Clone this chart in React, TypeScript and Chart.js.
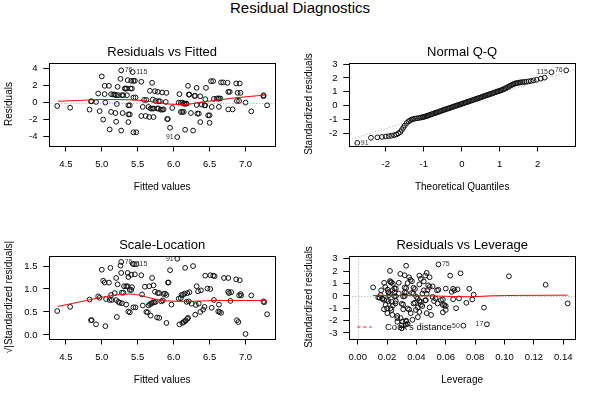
import React, { useEffect, useRef } from "react";
import { Chart, registerables } from "chart.js";
Chart.register(...registerables);

const FONT = '"Liberation Sans", Arial, Helvetica, sans-serif';

// ---------- Panel 1: Residuals vs Fitted ----------
const fitted1 = [4.38,4.56,4.83,4.85,4.86,4.92,4.95,4.97,5.00,5.02,5.04,5.05,5.04,5.10,5.11,5.13,5.13,5.16,5.18,5.19,5.20,5.21,5.22,5.20,5.23,5.26,5.27,5.27,5.28,5.30,5.29,5.32,5.33,5.35,5.35,5.36,5.37,5.37,5.39,5.37,5.40,5.42,5.39,5.41,5.43,5.44,5.46,5.44,5.47,5.44,5.48,5.55,5.55,5.57,5.59,5.62,5.61,5.65,5.66,5.67,5.68,5.70,5.72,5.70,5.71,5.72,5.74,5.75,5.77,5.79,5.78,5.79,5.81,5.82,5.84,5.84,5.86,5.89,5.90,5.91,5.92,5.95,5.98,6.05,6.08,6.07,6.10,6.12,6.10,6.12,6.14,6.14,6.15,6.17,6.18,6.16,6.20,6.21,6.22,6.24,6.27,6.29,6.30,6.32,6.32,6.33,6.35,6.37,6.37,6.39,6.43,6.44,6.44,6.45,6.48,6.50,6.50,6.52,6.55,6.53,6.56,6.60,6.62,6.63,6.65,6.63,6.66,6.69,6.75,6.76,6.78,6.76,6.82,6.87,6.92,6.88,6.91,6.89,6.93,7.00,7.08,7.25,7.25,7.30];
const resid1 = [-0.40,-0.60,-0.83,0.15,0.15,0.08,1.07,-1.00,3.09,-2.00,1.00,0.00,1.98,1.98,-3.17,1.00,-1.10,0.95,0.95,-1.23,-2.26,-0.16,1.86,0.87,0.87,2.80,-3.30,3.80,0.87,0.87,-1.23,1.66,1.66,1.66,0.87,2.65,-1.39,-0.32,-0.32,-2.30,1.66,1.66,-1.39,2.57,3.60,2.57,2.57,0.60,0.60,-3.50,-3.50,2.46,-1.58,-0.51,0.32,0.32,-1.58,-0.51,-1.70,1.39,-0.70,-0.70,-0.70,2.34,0.36,-1.70,1.35,0.20,-0.70,-0.70,1.27,0.16,0.16,-0.83,-0.83,1.19,-0.80,0.08,1.15,-1.94,-1.94,-2.97,-0.63,-4.07,1.00,0.00,0.00,0.00,-1.10,-1.10,-1.10,-0.12,-0.12,-0.12,-0.12,-3.20,1.98,0.95,0.95,-1.23,-3.30,0.79,0.79,1.74,-0.28,-1.30,-1.30,0.75,-2.30,-0.24,-0.32,-0.32,0.40,1.74,-1.50,-1.50,-2.38,2.53,2.53,-0.51,0.44,0.48,0.48,0.48,0.48,-0.51,2.38,2.38,2.34,1.27,1.27,-0.80,-0.80,2.26,2.26,0.20,0.20,1.15,1.15,0.00,-1.03,0.87,0.75,-0.32];
const smoothX1 = [4.39,4.70,5.00,5.44,5.68,5.91,6.14,6.37,6.60,6.84,7.29];
const smoothY1 = [0.16,0.26,0.36,0.32,0.12,-0.16,-0.24,0.04,0.28,0.55,0.90];
const idText1 = ["76","115","91"];
const idX1 = [5.27,5.43,6.05];
const idY1 = [3.80,3.60,-4.07];
const xTicks1 = [4.5,5.0,5.5,6.0,6.5,7.0];
const xTickLabels1 = ["4.5","5.0","5.5","6.0","6.5","7.0"];
const yTicks1 = [-4,-2,0,2,4];
const yTickLabels1 = ["-4","-2","0","2","4"];

// ---------- Panel 2: Normal Q-Q ----------
const qqX = [-2.75,-2.39,-2.22,-2.10,-2.00,-1.92,-1.85,-1.78,-1.72,-1.67,-1.62,-1.58,-1.54,-1.50,-1.45,-1.40,-1.36,-1.32,-1.28,-1.23,-1.18,-1.13,-1.08,-1.04,-1.01,-0.98,-0.94,-0.91,-0.87,-0.84,-0.80,-0.77,-0.73,-0.70,-0.66,-0.63,-0.59,-0.56,-0.52,-0.49,-0.45,-0.42,-0.38,-0.35,-0.31,-0.28,-0.24,-0.21,-0.17,-0.14,-0.10,-0.07,-0.03,0.00,0.03,0.07,0.10,0.14,0.17,0.21,0.24,0.28,0.31,0.35,0.38,0.42,0.45,0.49,0.52,0.56,0.59,0.63,0.66,0.70,0.73,0.77,0.80,0.84,0.87,0.91,0.94,0.98,1.01,1.05,1.08,1.12,1.15,1.19,1.22,1.26,1.29,1.33,1.36,1.40,1.43,1.47,1.51,1.55,1.60,1.65,1.70,1.76,1.82,1.89,1.97,2.08,2.18,2.36,2.75];
const qqY = [-2.71,-2.34,-2.31,-2.28,-2.25,-2.22,-2.19,-2.15,-2.10,-2.02,-1.93,-1.78,-1.61,-1.45,-1.27,-1.15,-1.08,-1.02,-0.98,-0.95,-0.93,-0.90,-0.88,-0.85,-0.83,-0.81,-0.78,-0.75,-0.71,-0.68,-0.64,-0.61,-0.57,-0.54,-0.51,-0.48,-0.44,-0.41,-0.37,-0.34,-0.30,-0.27,-0.23,-0.21,-0.17,-0.14,-0.10,-0.07,-0.04,-0.01,0.03,0.06,0.09,0.12,0.15,0.18,0.22,0.25,0.28,0.32,0.35,0.38,0.41,0.45,0.48,0.51,0.55,0.58,0.61,0.65,0.68,0.72,0.75,0.78,0.82,0.85,0.88,0.92,0.95,0.99,1.02,1.05,1.08,1.12,1.16,1.20,1.25,1.30,1.35,1.41,1.46,1.51,1.55,1.59,1.62,1.64,1.66,1.68,1.70,1.71,1.73,1.75,1.78,1.82,1.87,1.95,2.02,2.41,2.55];
const qqLineX = [-2.96,2.98];
const qqLineY = [-2.50,2.60];
const idText2 = ["91","115","76"];
const idX2 = [-2.75,2.36,2.75];
const idY2 = [-2.71,2.41,2.55];
const xTicks2 = [-2,-1,0,1,2];
const xTickLabels2 = ["-2","-1","0","1","2"];
const yTicks2 = [-2,-1,0,1,2,3];
const yTickLabels2 = ["-2","-1","0","1","2","3"];

// ---------- Panel 3: Scale-Location ----------
const fitted3 = [4.38,4.56,4.83,4.85,4.86,4.92,4.95,4.97,5.00,5.02,5.04,5.05,5.10,5.06,5.11,5.12,5.13,5.14,5.18,5.20,5.21,5.22,5.23,5.25,5.28,5.26,5.27,5.27,5.28,5.30,5.31,5.34,5.36,5.34,5.36,5.37,5.39,5.37,5.39,5.41,5.41,5.42,5.43,5.45,5.48,5.44,5.47,5.46,5.55,5.57,5.60,5.62,5.64,5.65,5.66,5.67,5.69,5.68,5.70,5.71,5.73,5.72,5.74,5.77,5.80,5.78,5.80,5.83,5.85,5.86,5.90,5.90,5.92,5.93,5.95,5.97,6.05,6.08,6.10,6.11,6.13,6.12,6.14,6.16,6.17,6.19,6.20,6.16,6.19,6.21,6.27,6.30,6.32,6.34,6.38,6.35,6.37,6.41,6.43,6.44,6.47,6.51,6.51,6.55,6.57,6.53,6.56,6.62,6.64,6.66,6.63,6.70,6.76,6.76,6.77,6.79,6.87,6.92,6.88,6.90,6.91,6.94,7.00,7.08,7.25,7.26,7.30,6.18,6.25,6.31,5.88,6.15,6.22,6.80,6.07,5.20,5.56,5.75,6.93];
const sqrtStd3 = [0.52,0.61,0.77,0.32,0.32,0.23,0.84,0.81,1.42,1.18,1.14,0.19,1.14,0.78,0.76,1.46,0.87,0.76,0.91,1.24,0.39,1.10,0.72,0.70,0.69,1.51,1.35,1.59,0.92,0.92,1.06,1.06,1.06,0.66,1.35,0.51,0.49,1.26,0.98,0.98,1.31,1.04,1.55,1.54,1.54,0.60,0.60,1.32,1.30,0.64,1.05,0.50,0.49,0.64,1.06,0.67,0.68,0.42,1.24,0.71,0.71,1.08,0.94,0.38,0.37,0.91,0.91,0.73,0.75,0.89,0.26,0.87,1.14,1.14,1.41,0.66,1.66,0.23,0.80,0.87,0.87,0.26,0.28,0.30,0.32,0.35,0.37,1.46,0.91,0.73,1.50,0.44,1.06,0.95,0.97,0.68,0.50,0.55,0.61,1.29,1.01,1.00,1.30,1.29,1.28,0.59,0.76,0.51,0.50,0.48,0.66,1.24,1.24,0.94,0.91,0.74,1.21,1.19,0.32,0.28,0.86,0.86,0.02,0.86,0.73,0.71,0.45,0.72,0.68,0.65,0.90,0.90,0.93,0.93,0.79,0.76,0.88,0.72,0.89];
const smoothX3 = [4.39,4.79,5.07,5.40,5.54,5.68,5.91,6.20,6.60,7.00,7.29];
const smoothY3 = [0.62,0.75,0.84,0.89,0.86,0.80,0.74,0.73,0.75,0.75,0.75];
const idText3 = ["76","115","91"];
const idX3 = [5.27,5.43,6.05];
const idY3 = [1.59,1.55,1.66];
const yTicks3 = [0,0.5,1.0,1.5];
const yTickLabels3 = ["0.0","0.5","1.0","1.5"];

// ---------- Panel 4: Residuals vs Leverage ----------
const lev4 = [0.0105,0.014,0.015,0.016,0.017,0.018,0.018,0.019,0.020,0.021,0.021,0.021,0.022,0.022,0.023,0.024,0.023,0.024,0.025,0.026,0.025,0.026,0.026,0.027,0.027,0.028,0.028,0.029,0.030,0.031,0.030,0.030,0.031,0.032,0.031,0.032,0.033,0.032,0.033,0.032,0.033,0.033,0.033,0.034,0.034,0.035,0.034,0.035,0.036,0.037,0.037,0.038,0.038,0.039,0.038,0.039,0.040,0.041,0.041,0.041,0.042,0.042,0.043,0.042,0.042,0.043,0.044,0.045,0.045,0.046,0.046,0.047,0.047,0.047,0.048,0.049,0.049,0.049,0.050,0.051,0.052,0.053,0.054,0.055,0.055,0.058,0.058,0.060,0.058,0.063,0.064,0.065,0.066,0.065,0.067,0.068,0.069,0.070,0.072,0.074,0.076,0.078,0.079,0.086,0.088,0.103,0.128,0.143,0.0224,0.0188,0.0204,0.0238,0.0250,0.0213,0.0156,0.0168,0.0197,0.0231,0.0258,0.0224,0.0179,0.0202,0.0236,0.0270,0.0293,0.0305,0.0327,0.0373,0.0361,0.0396,0.0430,0.0464,0.0441,0.0475,0.0510,0.0544,0.0567,0.0590,0.0600,0.0600];
const std4 = [0.69,-0.13,-0.13,0.45,-0.25,-0.33,1.06,-0.74,-1.00,0.30,0.28,-0.42,2.02,1.20,1.10,0.98,-1.14,-0.77,0.60,0.60,-0.03,-0.03,-0.42,-1.62,-2.10,0.19,1.06,1.78,-0.64,-0.70,-2.39,-2.63,-0.05,-0.02,-1.09,0.29,0.24,0.68,0.63,1.67,2.44,-2.00,-2.08,-2.26,-1.02,-1.10,1.03,1.51,1.30,1.19,0.24,0.19,-0.61,-0.56,0.66,0.56,-0.08,-0.21,-1.72,-0.93,1.64,-0.42,-0.48,-1.30,0.93,1.38,-0.82,0.45,1.17,1.64,-0.37,-1.40,1.86,0.18,0.85,0.72,1.51,-0.93,-1.54,0.77,-0.42,-0.21,0.45,0.50,2.55,-0.29,-0.74,-0.82,-1.33,1.64,0.32,0.58,0.45,-0.27,-1.00,0.53,-0.21,1.83,-2.41,-0.56,0.58,-0.29,0.10,-0.95,-2.30,1.59,0.90,-0.61,1.11,0.72,0.51,0.46,0.25,0.06,0.06,-0.21,-0.34,-0.48,-0.61,-1.00,-1.08,-1.40,-1.54,-1.80,-1.80,-2.07,-2.33,-1.93,-1.40,-1.14,-0.74,-0.34,0.19,0.46,-0.08,-0.61,-0.34,-0.74,-1.14,0.59];
const smoothX4 = [0.0105,0.030,0.050,0.065,0.075,0.090,0.110,0.143];
const smoothY4 = [0.04,0.03,0.00,-0.05,-0.08,0.00,0.04,0.06];
const idText4 = ["75","50","17"];
const idX4 = [0.055,0.072,0.088];
const idY4 = [2.55,-2.41,-2.30];
const xTicks4 = [0,0.02,0.04,0.06,0.08,0.10,0.12,0.14];
const xTickLabels4 = ["0.00","0.02","0.04","0.06","0.08","0.10","0.12","0.14"];
const yTicks4 = [-3,-2,-1,0,1,2,3];
const yTickLabels4 = ["-3","-2","-1","0","1","2","3"];

// ---------- layout constants ----------
const CW = 300;
const CH = 193;
const Y_AXIS_W = 49.3;
const X_AXIS_H = 61.5;
const RIGHT_PAD = 25;

function pts(xs: number[], ys: number[]) {
  return xs.map((x, i) => ({ x, y: ys[i] }));
}

function pointSet(xs: number[], ys: number[]) {
  return {
    type: "scatter",
    data: pts(xs, ys),
    pointRadius: 2.4,
    pointHoverRadius: 2.4,
    pointBorderWidth: 1,
    borderColor: "#111",
    backgroundColor: "rgba(0,0,0,0)",
    pointStyle: "circle",
    showLine: false,
    order: 2,
  };
}

function smoothSet(xs: number[], ys: number[]) {
  return {
    type: "line",
    data: pts(xs, ys),
    borderColor: "#ff0000",
    borderWidth: 1,
    pointRadius: 0,
    tension: 0.4,
    cubicInterpolationMode: "monotone",
    fill: false,
    order: 1,
  };
}

function dottedSet(xs: number[], ys: number[]) {
  return {
    type: "line",
    data: pts(xs, ys),
    borderColor: "#a0a0a0",
    borderWidth: 1,
    borderDash: [1, 2],
    pointRadius: 0,
    fill: false,
    order: 3,
  };
}

function xAxis(min: number, max: number, ticks: number[], labels: string[], title: string) {
  return {
    type: "linear",
    position: "bottom",
    min,
    max,
    afterBuildTicks: (s: any) => {
      s.ticks = ticks.map((v) => ({ value: v }));
    },
    afterFit: (s: any) => {
      s.height = X_AXIS_H;
    },
    grid: { drawOnChartArea: false, drawTicks: true, tickLength: 6, color: "#000", lineWidth: 1 },
    border: { display: false },
    ticks: {
      autoSkip: false,
      maxRotation: 0,
      minRotation: 0,
      padding: 7,
      color: "#000",
      font: { family: FONT, size: 9.5 },
      callback: (_v: any, i: number) => labels[i],
    },
    title: {
      display: true,
      text: title,
      color: "#000",
      font: { family: FONT, size: 10 },
      padding: { top: 0, bottom: 13.5 },
    },
  };
}

function yAxis(min: number, max: number, ticks: number[], labels: string[], title: string) {
  return {
    type: "linear",
    position: "left",
    min,
    max,
    afterBuildTicks: (s: any) => {
      s.ticks = ticks.map((v) => ({ value: v }));
    },
    afterFit: (s: any) => {
      s.width = Y_AXIS_W;
    },
    grid: { drawOnChartArea: false, drawTicks: true, tickLength: 6, color: "#000", lineWidth: 1 },
    border: { display: false },
    ticks: {
      autoSkip: false,
      padding: 5.8,
      color: "#000",
      font: { family: FONT, size: 9.5 },
      callback: (_v: any, i: number) => labels[i],
    },
    title: {
      display: true,
      text: title,
      color: "#000",
      font: { family: FONT, size: 10 },
      padding: { top: 3, bottom: 0 },
    },
  };
}

type Extras = {
  h0?: boolean;
  v0?: boolean;
  ids?: { t: string[]; x: number[]; y: number[] };
  cook?: string;
};

function extrasPlugin(e: Extras) {
  return {
    id: "extras",
    beforeDatasetsDraw(chart: any) {
      const { ctx, chartArea: a, scales } = chart;
      ctx.save();
      ctx.beginPath();
      ctx.rect(a.left, a.top, a.right - a.left, a.bottom - a.top);
      ctx.clip();
      ctx.strokeStyle = "#a8a8a8";
      ctx.lineWidth = 1;
      ctx.setLineDash([1, 2]);
      if (e.h0) {
        const y = Math.round(scales.y.getPixelForValue(0)) + 0.5;
        ctx.beginPath();
        ctx.moveTo(a.left, y);
        ctx.lineTo(a.right, y);
        ctx.stroke();
      }
      if (e.v0) {
        const x = Math.round(scales.x.getPixelForValue(0)) + 0.5;
        ctx.beginPath();
        ctx.moveTo(x, a.top);
        ctx.lineTo(x, a.bottom);
        ctx.stroke();
      }
      ctx.restore();
    },
    afterDatasetsDraw(chart: any) {
      const { ctx, chartArea: a, scales } = chart;
      ctx.save();
      ctx.setLineDash([]);
      ctx.strokeStyle = "#000";
      ctx.lineWidth = 1;
      const l = Math.round(a.left) + 0.5;
      const t = Math.round(a.top) + 0.5;
      const r = Math.round(a.right) + 0.5;
      const b = Math.round(a.bottom) + 0.5;
      ctx.strokeRect(l, t, r - l, b - t);
      if (e.ids) {
        const ids = e.ids;
        ctx.font = `7px ${FONT}`;
        ctx.fillStyle = "#333";
        ctx.textBaseline = "middle";
        const mid = (scales.x.min + scales.x.max) / 2;
        ids.t.forEach((txt, i) => {
          const px = scales.x.getPixelForValue(ids.x[i]);
          const py = scales.y.getPixelForValue(ids.y[i]);
          const toLeft = ids.x[i] > mid;
          ctx.textAlign = toLeft ? "right" : "left";
          ctx.fillText(txt, px + (toLeft ? -3.5 : 3.5), py);
        });
      }
      if (e.cook) {
        const y = a.bottom - 11.5;
        ctx.strokeStyle = "#ff0000";
        ctx.setLineDash([3, 3]);
        ctx.beginPath();
        ctx.moveTo(a.left + 8, y);
        ctx.lineTo(a.left + 22.4, y);
        ctx.stroke();
        ctx.setLineDash([]);
        ctx.font = `9.5px ${FONT}`;
        ctx.fillStyle = "#000";
        ctx.textAlign = "left";
        ctx.textBaseline = "middle";
        ctx.fillText(e.cook, a.left + 35.7, y + 0.5);
      }
      ctx.restore();
    },
  };
}

function makeConfig(caption: string, datasets: any[], scales: any, extras: Extras) {
  return {
    type: "scatter",
    data: { datasets },
    options: {
      responsive: false,
      animation: false,
      events: [],
      layout: { padding: { left: 0, right: RIGHT_PAD, top: 0, bottom: 0 } },
      plugins: {
        legend: { display: false },
        tooltip: { enabled: false },
        title: {
          display: true,
          text: caption,
          color: "#000",
          fullSize: false,
          font: { family: FONT, size: 13, weight: "normal" },
          padding: { top: 30.5, bottom: 2.4 },
        },
      },
      scales,
    },
    plugins: [extrasPlugin(extras)],
  };
}

const configs = {
  p1: () =>
    makeConfig(
      "Residuals vs Fitted",
      [smoothSet(smoothX1, smoothY1), pointSet(fitted1, resid1)],
      {
        x: xAxis(4.27, 7.41, xTicks1, xTickLabels1, "Fitted values"),
        y: yAxis(-5.06, 4.73, yTicks1, yTickLabels1, "Residuals"),
      },
      { h0: true, ids: { t: idText1, x: idX1, y: idY1 } }
    ),
  p2: () =>
    makeConfig(
      "Normal Q-Q",
      [pointSet(qqX, qqY), dottedSet(qqLineX, qqLineY)],
      {
        x: xAxis(-2.96, 2.98, xTicks2, xTickLabels2, "Theoretical Quantiles"),
        y: yAxis(-2.9, 3.12, yTicks2, yTickLabels2, "Standardized residuals"),
      },
      { ids: { t: idText2, x: idX2, y: idY2 } }
    ),
  p3: () =>
    makeConfig(
      "Scale-Location",
      [smoothSet(smoothX3, smoothY3), pointSet(fitted3, sqrtStd3)],
      {
        x: xAxis(4.27, 7.41, xTicks1, xTickLabels1, "Fitted values"),
        y: yAxis(-0.079, 1.73, yTicks3, yTickLabels3, "√|Standardized residuals|"),
      },
      { ids: { t: idText3, x: idX3, y: idY3 } }
    ),
  p4: () =>
    makeConfig(
      "Residuals vs Leverage",
      [smoothSet(smoothX4, smoothY4), pointSet(lev4, std4)],
      {
        x: xAxis(-0.0057, 0.148, xTicks4, xTickLabels4, "Leverage"),
        y: yAxis(-3.45, 3.27, yTicks4, yTickLabels4, "Standardized residuals"),
      },
      { h0: true, v0: true, ids: { t: idText4, x: idX4, y: idY4 }, cook: "Cook's distance" }
    ),
};

function Panel({ left, top, make }: { left: number; top: number; make: () => any }) {
  const ref = useRef<HTMLCanvasElement>(null);
  useEffect(() => {
    const chart = new Chart(ref.current as HTMLCanvasElement, make());
    return () => chart.destroy();
  }, []);
  return (
    <canvas
      ref={ref}
      width={CW}
      height={CH}
      style={{ position: "absolute", left, top, width: CW, height: CH }}
    />
  );
}

export default function App() {
  return (
    <div
      style={{
        position: "fixed",
        left: 0,
        top: 0,
        width: 600,
        height: 400,
        background: "#fff",
        overflow: "hidden",
      }}
    >
      <div
        style={{
          position: "absolute",
          left: 0,
          top: 0,
          width: 600,
          textAlign: "center",
          fontFamily: FONT,
          fontSize: 15,
          lineHeight: "16px",
          color: "#000",
        }}
      >
        Residual Diagnostics
      </div>
      <Panel left={0} top={14} make={configs.p1} />
      <Panel left={300} top={14} make={configs.p2} />
      <Panel left={0} top={207} make={configs.p3} />
      <Panel left={300} top={207} make={configs.p4} />
    </div>
  );
}
